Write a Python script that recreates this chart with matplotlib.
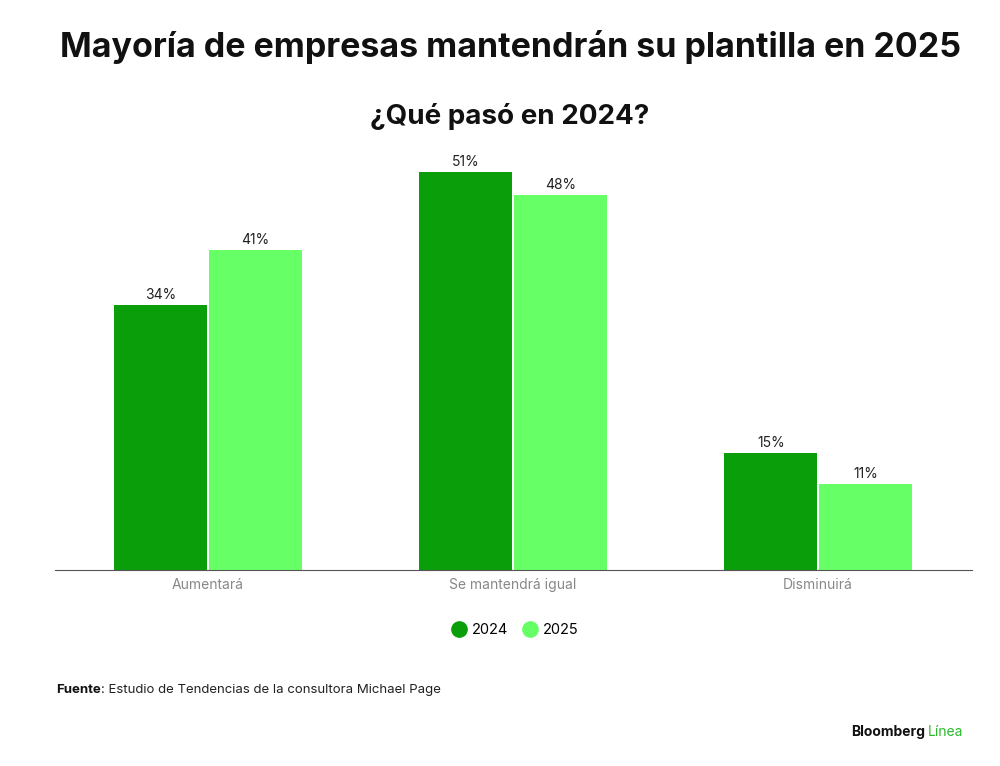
import matplotlib.pyplot as plt
from matplotlib.lines import Line2D
import numpy as np

categories = ["Aumentará", "Se mantendrá igual", "Disminuirá"]
series_names = ["2024", "2025"]
values_2024 = [34, 51, 15]
values_2025 = [41, 48, 11]

dark_green = "#0a9e0a"
light_green = "#66ff66"

plt.rcParams['font.family'] = ['Inter', 'DejaVu Sans']

fig = plt.figure(figsize=(10, 7.66), dpi=100)
ax = fig.add_axes([0.055, 0.256, 0.917, 0.548])

x = np.arange(len(categories))
w = 0.305
b1 = ax.bar(x - 0.155, values_2024, w, color=dark_green, label=series_names[0])
b2 = ax.bar(x + 0.155, values_2025, w, color=light_green, label=series_names[1])
for bars in (b1, b2):
    for r in bars:
        ax.text(r.get_x() + r.get_width() / 2, r.get_height() + 0.4, f"{r.get_height():.0f}%",
                ha='center', va='bottom', fontsize=10, color='#222222')

ax.set_xlim(-0.502, 2.505)
ax.set_ylim(0, 53.8)
ax.set_yticks([])
for s in ['top', 'right', 'left']:
    ax.spines[s].set_visible(False)
ax.spines['bottom'].set_color('#555555')
ax.set_xticks(x)
ax.set_xticklabels(categories, fontsize=10, color='#888888')
ax.tick_params(axis='x', length=0, pad=6)

handles = [Line2D([], [], marker='o', ls='', markersize=11, color=c) for c in (dark_green, light_green)]
fig.legend(handles, series_names, loc='center', bbox_to_anchor=(0.515, 0.178), ncol=2, frameon=False,
           fontsize=10.5, handlelength=1, columnspacing=1.0, handletextpad=0.4)

fig.text(0.51, 0.938, "Mayoría de empresas mantendrán su plantilla en 2025", ha='center', va='center',
         fontsize=24.5, fontweight='bold', color='#111111')
fig.text(0.51, 0.848, "¿Qué pasó en 2024?", ha='center', va='center',
         fontsize=20, fontweight='bold', color='#111111')

t = fig.text(0.056, 0.099, "Fuente", ha='left', va='center', fontsize=9.5, fontweight='bold', color='#111111')
fig.canvas.draw()
bb = t.get_window_extent().transformed(fig.transFigure.inverted())
fig.text(bb.x1, 0.099, ": Estudio de Tendencias de la consultora Michael Page", ha='left', va='center',
         fontsize=9.5, color='#222222')
fig.text(0.925, 0.045, "Bloomberg", ha='right', va='center', fontsize=10, fontweight='bold', color='#111111')
fig.text(0.928, 0.045, "Línea", ha='left', va='center', fontsize=10, color='#2db82d')

fig.savefig("out.png", dpi=100)
